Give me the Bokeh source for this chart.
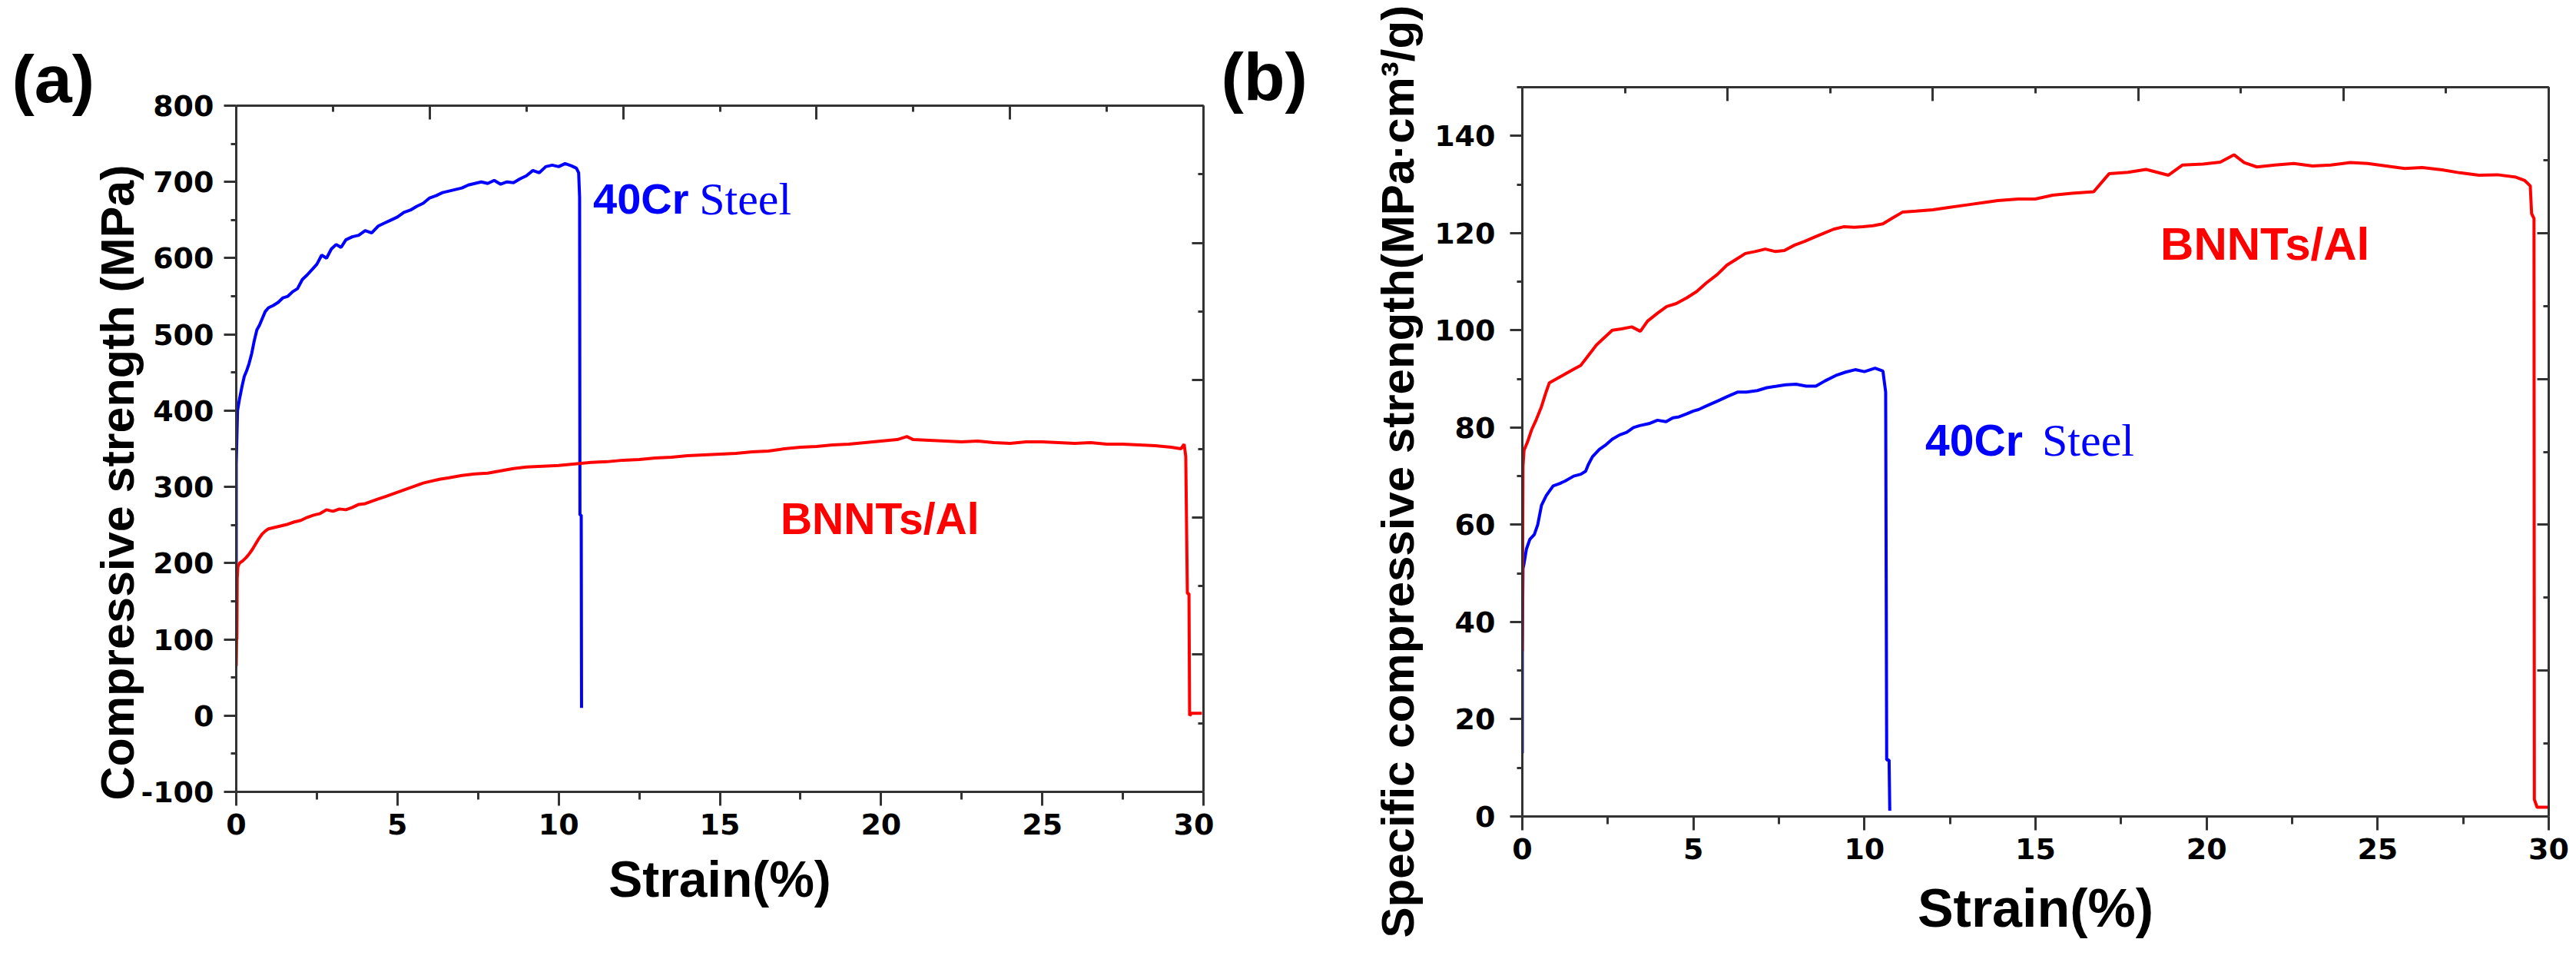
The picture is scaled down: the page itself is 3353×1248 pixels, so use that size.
from bokeh.plotting import figure
from bokeh.models import Range1d, LinearAxis, FixedTicker, Label, Title, Spacer
from bokeh.layouts import row, column
from bokeh.embed import file_html
from bokeh.resources import INLINE

# ---- data ----
# (a) compressive strength, MPa
steel_a_x = [0.0, 0.0, 0.04, 0.10, 0.18, 0.25, 0.32, 0.40, 0.48, 0.56, 0.64, 0.72, 0.80, 0.90, 1.00,
             1.15, 1.30, 1.45, 1.60, 1.75, 1.90, 2.05, 2.20, 2.35, 2.50, 2.65, 2.80, 2.95, 3.10, 3.25,
             3.40, 3.60, 3.80, 4.00, 4.20, 4.40, 4.60, 4.80, 5.00, 5.20, 5.40, 5.60, 5.80, 6.00, 6.20,
             6.40, 6.60, 6.80, 7.00, 7.20, 7.40, 7.60, 7.80, 8.00, 8.20, 8.40, 8.60, 8.80, 9.00, 9.20,
             9.40, 9.60, 9.80, 10.00, 10.20, 10.40, 10.55, 10.62, 10.65, 10.66, 10.70, 10.71]
steel_a_y = [200, 330, 400, 415, 432, 445, 452, 462, 475, 492, 506, 512, 520, 530, 535,
             538, 542, 548, 550, 556, 560, 572, 578, 585, 592, 604, 600, 612, 618, 614,
             624, 628, 630, 636, 633, 642, 646, 650, 654, 660, 663, 668, 672, 679, 682,
             686, 688, 690, 692, 696, 698, 700, 698, 702, 697, 700, 699, 704, 708, 715,
             712, 720, 722, 720, 724, 721, 718, 712, 680, 263, 263, 10]

bnnt_a_x = [0.00, 0.01, 0.02, 0.03, 0.05, 0.10, 0.20, 0.30, 0.40, 0.50, 0.60, 0.70, 0.80, 0.90, 1.00,
            1.20, 1.40, 1.60, 1.80, 2.00, 2.20, 2.40, 2.60, 2.80, 3.00, 3.20, 3.40, 3.60, 3.80, 4.00,
            4.20, 4.40, 4.60, 4.80, 5.00, 5.20, 5.40, 5.60, 5.80, 6.00, 6.30, 6.60, 7.00, 7.40, 7.80,
            8.20, 8.60, 9.00, 9.50, 10.00, 10.50, 11.00, 11.50, 12.00, 12.50, 13.00, 13.50, 14.00,
            14.50, 15.00, 15.50, 16.00, 16.50, 17.00, 17.50, 18.00, 18.50, 19.00, 19.50, 20.00, 20.50,
            20.80, 21.00, 21.50, 22.00, 22.50, 23.00, 23.50, 24.00, 24.50, 25.00, 25.50, 26.00, 26.50,
            27.00, 27.50, 28.00, 28.50, 29.00, 29.30, 29.40, 29.45, 29.50, 29.55, 29.57, 29.62, 29.95]
bnnt_a_y = [65, 100, 100, 180, 195, 200, 203, 207, 212, 218, 225, 232, 238, 242, 245,
            247, 249, 251, 254, 256, 260, 263, 265, 270, 268, 271, 270, 273, 277, 278,
            281, 284, 287, 290, 293, 296, 299, 302, 305, 307, 310, 312, 315, 317, 318,
            321, 324, 326, 327, 328, 330, 332, 333, 335, 336, 338, 339, 341,
            342, 343, 344, 346, 347, 350, 352, 353, 355, 356, 358, 360, 362,
            366, 362, 361, 360, 359, 360, 358, 357, 359, 359, 358, 357, 358,
            356, 356, 355, 354, 352, 350, 356, 340, 160, 160, 0, 3, 3]

# (b) specific compressive strength, MPa*cm3/g
steel_b_x = [0.00, 0.00, 0.02, 0.05, 0.12, 0.22, 0.35, 0.45, 0.56, 0.70, 0.90, 1.10, 1.25, 1.50, 1.71,
             1.85, 1.93, 2.05, 2.25, 2.45, 2.63, 2.85, 3.05, 3.25, 3.43, 3.70, 3.95, 4.20, 4.40, 4.58,
             4.80, 5.00, 5.15, 5.40, 5.72, 6.00, 6.30, 6.55, 6.87, 7.15, 7.44, 7.70, 8.00, 8.30, 8.58,
             8.85, 9.16, 9.45, 9.73, 10.00, 10.31, 10.54, 10.62, 10.65, 10.72, 10.74]
steel_b_y = [13, 35, 51, 52, 55, 57, 58, 60, 64, 66, 68, 68.5, 69, 70, 70.4,
             71, 72.4, 74, 75.5, 76.5, 77.6, 78.5, 79, 80, 80.4, 80.8, 81.5, 81.2, 82, 82.2,
             82.8, 83.4, 83.7, 84.5, 85.5, 86.4, 87.3, 87.3, 87.6, 88.2, 88.5, 88.8, 88.9, 88.5, 88.5,
             89.6, 90.7, 91.4, 91.9, 91.5, 92.2, 91.6, 87.3, 11.6, 11.6, 1.2]

bnnt_b_x = [0.00, 0.02, 0.05, 0.15, 0.27, 0.40, 0.56, 0.68, 0.79, 1.00, 1.25, 1.50, 1.71, 1.95, 2.17,
            2.40, 2.63, 2.90, 3.20, 3.45, 3.66, 3.95, 4.22, 4.50, 4.81, 5.10, 5.37, 5.70, 5.98, 6.25,
            6.52, 6.80, 7.10, 7.40, 7.66, 7.95, 8.25, 8.55, 8.82, 9.10, 9.39, 9.70, 9.96, 10.25, 10.54,
            10.80, 11.11, 11.50, 12.00, 12.50, 13.00, 13.50, 13.90, 14.50, 14.99, 15.50, 16.07, 16.70,
            17.15, 17.70, 18.23, 18.88, 19.30, 19.90, 20.40, 20.80, 21.10, 21.47, 22.00, 22.55, 23.10,
            23.63, 24.20, 24.71, 25.25, 25.79, 26.30, 26.88, 27.40, 27.96, 28.50, 29.04, 29.30, 29.46,
            29.50, 29.57, 29.58, 29.66, 29.97]
bnnt_b_y = [34, 72, 75.3, 77, 79.5, 81.5, 84.3, 87, 89.2, 90, 91, 92, 92.8, 95, 97,
            98.5, 100, 100.3, 100.7, 99.8, 101.9, 103.5, 104.9, 105.5, 106.7, 108, 109.7, 111.5, 113.4, 114.6,
            115.8, 116.2, 116.7, 116.2, 116.4, 117.5, 118.3, 119.2, 120, 120.8, 121.3, 121.2, 121.3, 121.5, 121.9,
            123, 124.3, 124.5, 124.8, 125.3, 125.8, 126.3, 126.7, 127, 127, 127.8, 128.2, 128.5,
            132.2, 132.5, 133.1, 131.9, 134, 134.2, 134.6, 136.1, 134.5, 133.6, 134, 134.3, 133.8,
            134, 134.5, 134.3, 133.8, 133.3, 133.5, 133, 132.4, 131.9, 132, 131.5, 130.8, 129.7,
            124, 123, 3.5, 1.9, 1.9]

# ticks
x_major = [0, 5, 10, 15, 20, 25, 30]
x_minor = [2.5, 7.5, 12.5, 17.5, 22.5, 27.5]
top_major = [0, 6, 12, 18, 24, 30]
top_minor = [3, 9, 15, 21, 27]
ya_major = [-100, 0, 100, 200, 300, 400, 500, 600, 700, 800]
ya_minor = [-50, 50, 150, 250, 350, 450, 550, 650, 750]
ra_major = [-100, 80, 260, 440, 620, 800]
ra_minor = [-10, 170, 350, 530, 710]
yb_major = [0, 20, 40, 60, 80, 100, 120, 140]
yb_minor = [10, 30, 50, 70, 90, 110, 130, 150]
rb_major = [0, 30, 60, 90, 120, 150]
rb_minor = [15, 45, 75, 105, 135]

BLUE = "#0000FF"
RED = "#FF0000"
AXC = "#333333"
TICK_FONT = "DejaVu Sans"
SANS = "Liberation Sans"


def style_axis(ax, ticks, minors, tin, tout, min_in, min_out, labels=True, standoff=12):
    ax.ticker = FixedTicker(ticks=ticks, minor_ticks=minors)
    ax.axis_line_color = AXC
    ax.axis_line_width = 3
    ax.major_tick_line_color = AXC
    ax.major_tick_line_width = 3
    ax.minor_tick_line_color = AXC
    ax.minor_tick_line_width = 3
    ax.major_tick_in = tin
    ax.major_tick_out = tout
    ax.minor_tick_in = min_in
    ax.minor_tick_out = min_out
    if labels:
        ax.major_label_text_font = TICK_FONT
        ax.major_label_text_font_style = "bold"
        ax.major_label_text_font_size = "38px"
        ax.major_label_text_color = "black"
        ax.major_label_standoff = standoff
    else:
        ax.major_label_overrides = {t: "" for t in ticks}
        ax.major_label_text_font_size = "1px"
        ax.major_label_standoff = 0


def make_panel(width, height, borders, yr, ticks, xlabel_size, xlabel_standoff):
    left, right, top, bottom = borders
    p = figure(width=width, height=height, x_range=Range1d(0, 30), y_range=Range1d(*yr),
               output_backend="svg", toolbar_location=None, title=None,
               min_border_left=left, min_border_right=right,
               min_border_top=top, min_border_bottom=bottom)
    p.outline_line_color = None
    p.grid.visible = False
    p.background_fill_color = "white"
    p.border_fill_color = "white"
    ymaj, ymin, rmaj, rmin, ystand = ticks
    xax = p.below[0]
    yax = p.left[0]
    style_axis(xax, x_major, x_minor, 0, 18, 0, 10, standoff=10)
    style_axis(yax, ymaj, ymin, 0, 16, 0, 7, standoff=ystand)
    yax.major_label_overrides = {t: str(t) for t in ymaj if t < 0}
    xax.axis_label = "Strain(%)"
    xax.axis_label_text_font = SANS
    xax.axis_label_text_font_style = "bold"
    xax.axis_label_text_font_size = xlabel_size
    xax.axis_label_text_color = "black"
    xax.axis_label_standoff = xlabel_standoff
    top_ax = LinearAxis()
    style_axis(top_ax, top_major, top_minor, 18, 0, 8, 0, labels=False)
    p.add_layout(top_ax, "above")
    right_ax = LinearAxis()
    style_axis(right_ax, rmaj, rmin, 15, 0, 7, 0, labels=False)
    p.add_layout(right_ax, "right")
    return p


def add_text(p, x, y, text, size, color="black", font=SANS, style="bold"):
    p.add_layout(Label(x=x, y=y, text=text, text_font=font, text_font_size=size,
                       text_font_style=style, text_color=color,
                       text_align="left", text_baseline="middle"))


def add_ytitle(p, text, size, offset, standoff):
    p.add_layout(Title(text=text, align="left", offset=offset, standoff=standoff,
                       vertical_align="bottom", text_font=SANS, text_font_size=size,
                       text_font_style="bold", text_color="black"), "left")


def add_tag(p, text, offset, standoff):
    p.add_layout(Title(text=text, align="left", offset=offset, standoff=standoff,
                       vertical_align="bottom", text_font=SANS, text_font_size="88px",
                       text_font_style="bold", text_color="black"), "above")


# ---- panel (a) ----
pa = make_panel(1580, 1184, (307, 14, 113, 178), (-100, 800),
                (ya_major, ya_minor, ra_major, ra_minor, 13), "66px", 18)
pa.line(steel_a_x, steel_a_y, line_color=BLUE, line_width=4)
pa.line(bnnt_a_x, bnnt_a_y, line_color=RED, line_width=4)
add_ytitle(pa, "Compressive strength (MPa)", "61px", -11, -12)
add_tag(pa, "(a)", -292, -28)
add_text(pa, 11.07, 678, "40Cr", "56px", color=BLUE)
add_text(pa, 14.36, 678, "Steel", "60px", color=BLUE, font="Liberation Serif", style="normal")
add_text(pa, 16.88, 258.2, "BNNTs/Al", "57px", color=RED)

# ---- panel (b) ----
pb = make_panel(1765, 1240, (401, 28, 113, 178), (0, 150),
                (yb_major, yb_minor, rb_major, rb_minor, 19), "70px", 22)
pb.line(steel_b_x, steel_b_y, line_color=BLUE, line_width=4)
pb.line(bnnt_b_x, bnnt_b_y, line_color=RED, line_width=4)
add_ytitle(pb, "Specific compressive strength(MPa\u00b7cm\u00b3/g)", "60px", -158, 24)
add_tag(pb, "(b)", -392, -70)
add_text(pb, 11.78, 77.4, "40Cr", "57px", color=BLUE)
add_text(pb, 15.19, 77.4, "Steel", "60px", color=BLUE, font="Liberation Serif", style="normal")
add_text(pb, 18.65, 117.75, "BNNTs/Al", "60px", color=RED)

layout = row(column(Spacer(width=1580, height=24), pa, spacing=0), pb, spacing=0)
open("out.html", "w").write(file_html(layout, INLINE))
